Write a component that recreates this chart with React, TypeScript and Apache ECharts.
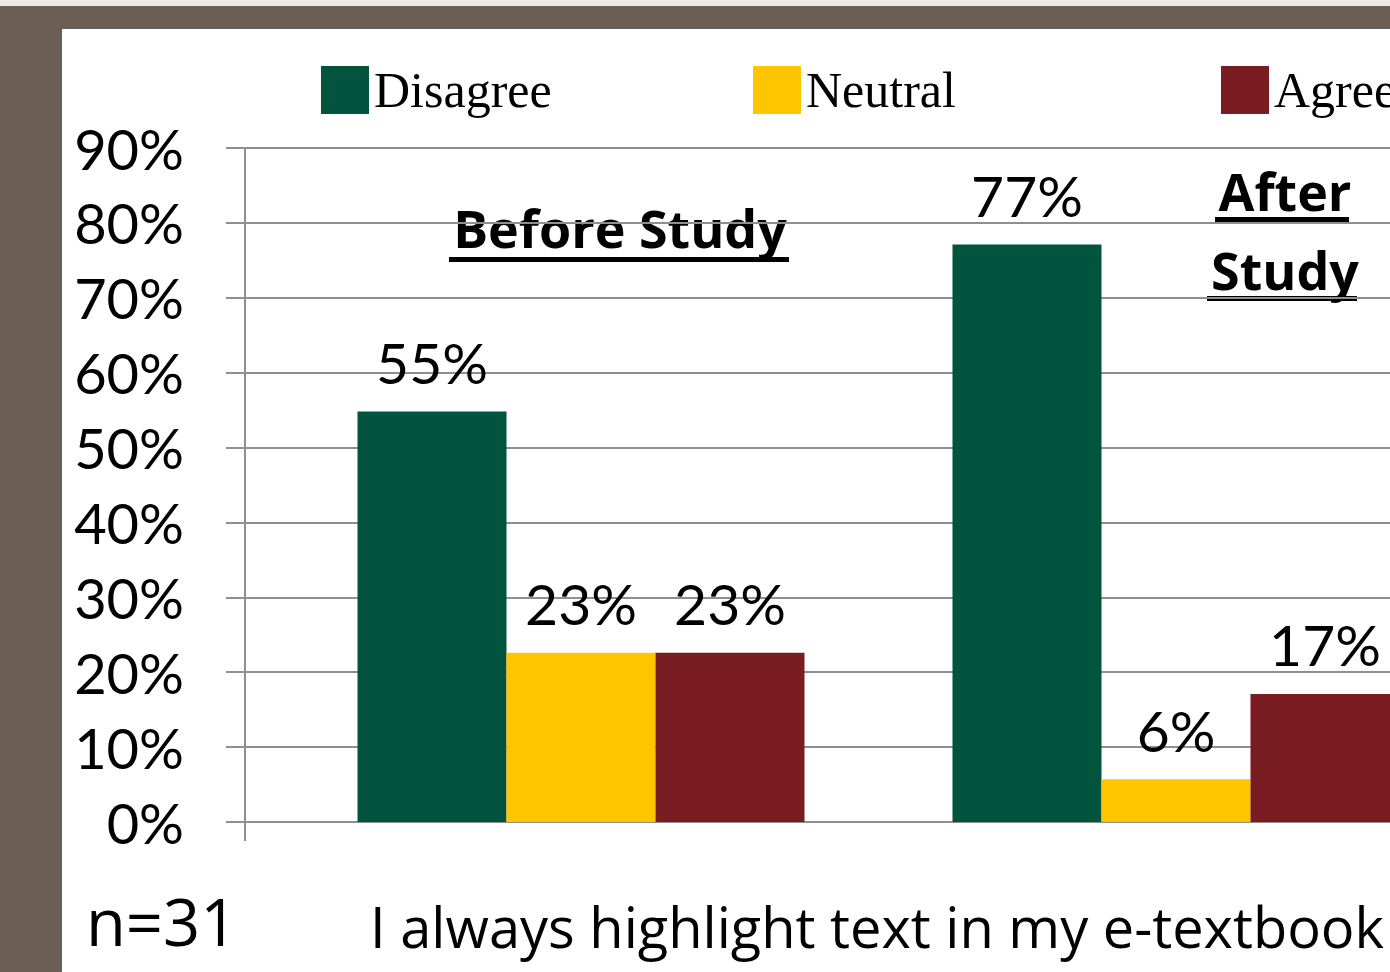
import React, { useEffect, useRef } from "react";
import * as echarts from "echarts";

const categories = ["Before Study", "After Study"];
const seriesNames = ["Disagree", "Neutral", "Agree"];
const disagreeValues = [54.8, 77.1];
const neutralValues = [22.6, 5.7];
const agreeValues = [22.6, 17.1];
const seriesValues = [disagreeValues, neutralValues, agreeValues];
const seriesColors = ["#02543F", "#FFC600", "#7A1D22"];
const yMin = 0;
const yMax = 90;
const yStep = 10;
const sampleNote = "n=31";
const statement = "I always highlight text in my e-textbook";

const GRAY = "#8F8F8F";
const NUM = "Lato, sans-serif";
const SANS = "'Open Sans', sans-serif";
const SERIF = "'Liberation Serif', serif";

export default function App() {
  const ref = useRef<HTMLDivElement>(null);

  useEffect(() => {
    if (!ref.current) return;
    const chart = echarts.init(ref.current, null, { renderer: "svg" });

    const legendLefts = [321, 753, 1221];

    const option: any = {
      animation: false,
      grid: [
        { left: 245, top: 148, width: 1145, height: 674, outerBoundsMode: "none", containLabel: false },
        { left: 283.5, top: 148, width: 1190, height: 674, outerBoundsMode: "none", containLabel: false },
      ],
      legend: seriesNames.map((n, i) => ({
        data: [n],
        left: legendLefts[i],
        top: 65,
        padding: 0,
        itemWidth: 48,
        itemHeight: 48,
        icon: "rect",
        selectedMode: false,
        textStyle: { fontFamily: SERIF, fontSize: 50, color: "#000" },
      })),
      xAxis: [
        {
          gridIndex: 0,
          type: "value",
          min: 0,
          max: 1,
          axisLine: { show: true, lineStyle: { color: GRAY, width: 2 } },
          axisTick: { show: true, customValues: [0], length: 19, lineStyle: { color: GRAY, width: 2 } },
          axisLabel: { show: false },
          splitLine: { show: false },
        },
        {
          gridIndex: 1,
          type: "category",
          data: categories,
          show: false,
        },
      ],
      yAxis: [
        {
          gridIndex: 0,
          type: "value",
          min: yMin,
          max: yMax,
          interval: yStep,
          axisLine: { show: true, lineStyle: { color: GRAY, width: 2 } },
          axisTick: { show: true, length: 19, lineStyle: { color: GRAY, width: 2 } },
          axisLabel: {
            formatter: "{value}%",
            margin: 61,
            fontFamily: NUM,
            fontSize: 56,
            color: "#000",
          },
          splitLine: { show: true, lineStyle: { color: GRAY, width: 2 } },
        },
        { gridIndex: 1, type: "value", min: yMin, max: yMax, show: false },
      ],
      series: seriesNames.map((n, i) => ({
        name: n,
        type: "bar",
        xAxisIndex: 1,
        yAxisIndex: 1,
        data: seriesValues[i],
        barWidth: 149,
        barGap: "0%",
        itemStyle: { color: seriesColors[i] },
        label: {
          show: true,
          position: "top",
          distance: 21,
          formatter: (p: any) => Math.round(p.value) + "%",
          fontFamily: NUM,
          fontSize: 57,
          color: "#000",
        },
      })),
      graphic: [
        {
          type: "text",
          x: 620,
          y: 227,
          style: { text: "Before Study", fontFamily: SANS, fontWeight: "bold", fontSize: 52, fill: "#000", align: "center", verticalAlign: "middle" },
        },
        { type: "rect", shape: { x: 449, y: 257, width: 340, height: 5 }, style: { fill: "#000" } },
        {
          type: "text",
          x: 1285,
          y: 190,
          style: { text: "After", fontFamily: SANS, fontWeight: "bold", fontSize: 52, fill: "#000", align: "center", verticalAlign: "middle" },
        },
        { type: "rect", shape: { x: 1215, y: 217, width: 134, height: 5 }, style: { fill: "#000" } },
        {
          type: "text",
          x: 1285,
          y: 269,
          style: { text: "Study", fontFamily: SANS, fontWeight: "bold", fontSize: 52, fill: "#000", align: "center", verticalAlign: "middle" },
        },
        { type: "rect", shape: { x: 1207, y: 296, width: 150, height: 5 }, style: { fill: "#000" } },
        {
          type: "text",
          x: 86,
          y: 921,
          style: { text: sampleNote, fontFamily: SANS, fontSize: 65, fill: "#000", align: "left", verticalAlign: "middle" },
        },
        {
          type: "text",
          x: 877,
          y: 926,
          style: { text: statement, fontFamily: SANS, fontSize: 56, fill: "#000", align: "center", verticalAlign: "middle" },
        },
      ],
    };

    chart.setOption(option);
    return () => chart.dispose();
  }, []);

  return (
    <div style={{ position: "fixed", left: 0, top: 0, width: 1390, height: 972, background: "#6B5E54", overflow: "hidden" }}>
      <div style={{ position: "absolute", left: 0, top: 0, width: 1390, height: 6, background: "#ECE9E6" }} />
      <div style={{ position: "absolute", left: 62, top: 29, width: 1328, height: 943, background: "#FFFFFF" }} />
      <div ref={ref} style={{ position: "absolute", left: 0, top: 0, width: 1390, height: 972 }} />
    </div>
  );
}
